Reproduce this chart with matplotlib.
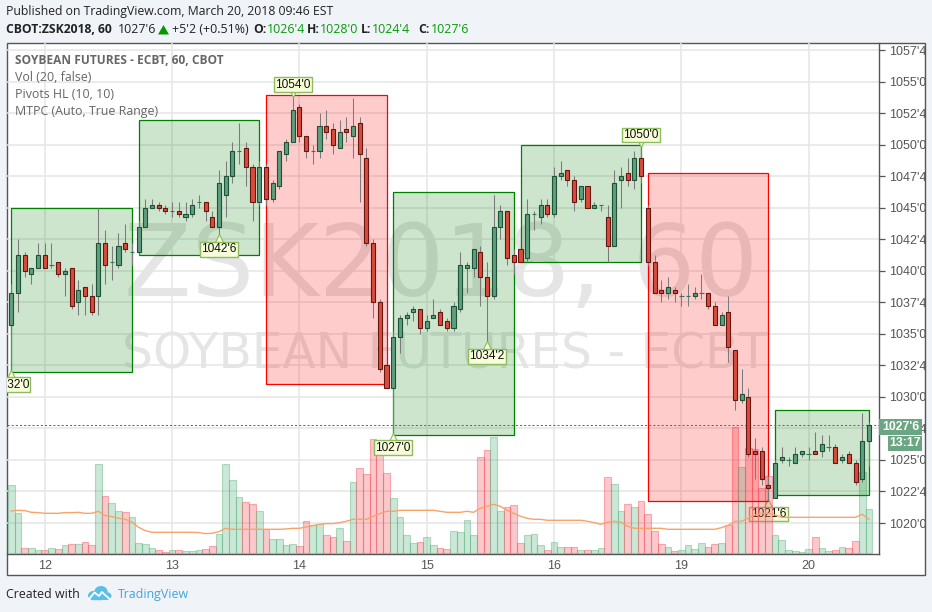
import matplotlib
matplotlib.use("Agg")
import matplotlib.pyplot as plt
from matplotlib.patches import Rectangle, Ellipse
from matplotlib.transforms import offset_copy

W, H = 932, 612

# ---------- data ----------
ohlc_open = [1035.75,1038.25,1041.25,1039.75,1040.25,1041.25,1040.5,1040.75,1039.75,1040.25,
 1037.5,1038.75,1038,1038,1042.25,1040.75,1040.5,1042.25,1041.5,1041.5,
 1043.5,1045,1045.25,1045,1044.75,1044.75,1044.25,1044.5,1045.5,1045.5,
 1044.25,1043.5,1046,1047.5,1049.5,1049.75,1048.25,1045.5,1048.25,1045.75,
 1046.75,1049.25,1050.25,1053,1050.75,1049.5,1049.5,1051.5,1051.25,1049.75,
 1051.25,1050.75,1051.75,1049,1042.25,1037.5,1032.5,1030.75,1034.75,1036.25,
 1036.75,1037,1035.5,1036.25,1036.75,1036,1035.5,1037,1040.25,1040.25,
 1041.5,1039.5,1038,1043.5,1044.75,1041.25,1041.75,1041,1044.5,1044.25,
 1045.25,1044.5,1047.5,1048,1047.25,1045.75,1046.75,1045,1045.25,1044.25,
 1042,1047.25,1047.75,1047.25,1049,1045,1040.75,1038.5,1038.25,1038.5,
 1038,1038,1038,1038.25,1038.25,1037.25,1035.75,1036.75,1033.75,1029.75,
 1030,1025.75,1025.75,1023,1022,1025,1025,1024.75,1025.5,1025.5,
 1025.75,1025.75,1026,1026,1025,1025.5,1024.75,1023.5,1026.5]
ohlc_high = [1039,1042.5,1041.5,1040.25,1042.25,1042.25,1042.25,1040.75,1040.25,1040.25,
 1039.25,1038.75,1039,1045,1043.25,1042,1043,1043.75,1042.25,1044,
 1045.75,1045.75,1045.5,1045.25,1045.5,1045.5,1045.5,1045.75,1046,1045.5,
 1044.75,1048,1048.75,1050.25,1051.75,1050.25,1048.5,1048.75,1048.5,1047.25,
 1049.5,1050.5,1054,1053.25,1050.75,1050,1052.5,1052.75,1051.75,1052,
 1052.25,1053.75,1052.25,1049.75,1042.5,1037.75,1032.5,1035.25,1036.5,1036.75,
 1037.25,1037,1036.5,1037.75,1037,1036.25,1037.5,1041.5,1040.75,1041.75,
 1042,1040.75,1046,1045.25,1044.75,1041.75,1041.75,1045.75,1044.75,1045.75,
 1045.75,1048.25,1048.75,1048,1047.5,1046.75,1046.75,1045.5,1045.25,1045.25,
 1048,1048.25,1049,1049.5,1050,1045.25,1041.25,1039.25,1039.5,1038.75,
 1038.25,1039,1038.75,1039.75,1038.25,1037.5,1036.75,1038,1033.75,1032.25,
 1030.75,1026.75,1026,1023.75,1025,1026,1025.25,1026,1025.75,1026,
 1027.25,1027,1027,1026.25,1025.5,1025.75,1025,1028.75,1028]
ohlc_low = [1032,1036.75,1039.5,1039,1040.25,1040.25,1040.25,1039.5,1038,1037,
 1036.5,1036.5,1036.5,1036.5,1039,1039.25,1040.25,1041.5,1040.5,1041.25,
 1043.5,1045,1044.75,1044.5,1044.25,1044.25,1044,1044.25,1045,1044,
 1043.5,1042.75,1044.25,1047,1048.5,1046.75,1044,1045.25,1045.25,1045.5,
 1046.5,1048.75,1050.25,1050.25,1049,1048.5,1049,1050.5,1049.25,1049.75,
 1050.25,1049,1045.5,1042,1036.25,1032,1030.75,1027,1033.5,1035.75,
 1036,1035,1035.25,1036.25,1035.75,1035.25,1035.25,1036.75,1038.25,1039.5,
 1037.25,1034.25,1037.75,1042.5,1040.5,1039.75,1040.75,1040.75,1043.25,1043.75,
 1044.25,1044.25,1047.25,1046.75,1044.75,1045.5,1045,1045,1044.75,1040.75,
 1042,1045,1046.75,1046.5,1047,1040.5,1038.25,1037.5,1037.75,1037.5,
 1037.25,1037.25,1037.75,1037.75,1037,1035.75,1035.75,1032.75,1029,1029.5,
 1025.25,1023.5,1023,1021.75,1022,1024.75,1024.5,1024.75,1025.25,1025,
 1025.5,1025.25,1025.75,1024.75,1024.75,1024.75,1023,1023.25,1024.5]
ohlc_close = [1038.25,1041.25,1040,1040.25,1041.25,1040.25,1040.5,1039.75,1040,1037.25,
 1038.5,1038,1036.75,1042.25,1040.5,1040.75,1042,1041.75,1041.5,1043.5,
 1045,1045.25,1045,1044.75,1044.75,1044.5,1044.5,1045.25,1045.5,1044.75,
 1043.5,1047,1047.5,1049.5,1049.5,1048.25,1045.5,1048.25,1045.75,1047,
 1049.5,1050.25,1052.75,1050.75,1049.5,1049.5,1051.5,1051,1050,1051,
 1051,1051.5,1049.25,1042.25,1037.5,1032.25,1030.75,1034.75,1036.25,1036.5,
 1037,1035.5,1036,1036.5,1035.75,1035.5,1037.25,1040.5,1040.5,1041.75,
 1039.5,1038,1043.5,1044.75,1041,1040.75,1040.75,1044.5,1044.5,1045.25,
 1044.5,1047.5,1047.75,1047.25,1045.5,1046.75,1045,1045.25,1045.25,1042,
 1047,1047.5,1047.25,1049,1047.5,1040.75,1038.25,1038.25,1038.75,1038.25,
 1038,1038,1038.25,1038.25,1037.25,1035.75,1036.5,1034,1029.75,1030.25,
 1025.5,1025.5,1023.5,1022.75,1024.75,1025.25,1025,1025.5,1025.75,1025.5,
 1025.5,1026.25,1026,1024.75,1025.25,1024.75,1023.25,1026.5,1027.75]
volume = [204,120,15,15,9,9,15,12,24,27,27,33,24,267,171,150,126,123,108,30,27,15,9,3,9,9,6,6,9,12,21,57,
 267,219,168,153,147,126,72,42,42,24,27,21,96,84,87,54,48,75,36,213,255,237,342,315,240,165,108,54,30,33,
 48,24,15,12,66,63,99,54,288,309,348,126,138,144,30,54,57,24,9,33,18,18,18,9,9,9,15,228,207,126,147,138,
 156,117,66,27,18,6,9,24,12,30,18,27,30,84,378,258,315,312,195,232,54,39,9,6,3,12,48,15,6,9,18,15,36,245,132]
vol_ma = [127,129,128,123,122,120,120,120,122,122,123,120,120,126,113,110,105,102,94,78,68,63,63,63,63,63,63,63,62,59,60,65,
 75,72,72,72,72,72,72,72,72,73,75,75,79,83,87,89,89,92,96,102,102,102,111,119,126,126,129,129,129,129,
 129,129,126,123,123,123,126,123,135,141,147,141,129,120,111,105,102,102,99,99,99,99,99,99,96,92,87,93,96,93,81,75,
 75,75,75,75,72,72,72,72,72,72,72,72,77,84,96,96,106,115,120,120,115,108,108,108,108,108,108,108,108,108,108,108,108,117,102]
day_pos = [5, 24, 43, 62, 81, 100, 119]
day_labels = ["12", "13", "14", "15", "16", "19", "20"]
price_ticks = [1020, 1022.5, 1025, 1027.5, 1030, 1032.5, 1035, 1037.5, 1040, 1042.5, 1045, 1047.5, 1050, 1052.5, 1055, 1057.5]
price_labels = ["1020'0","1022'4","1025'0","1027'4","1030'0","1032'4","1035'0","1037'4","1040'0","1042'4","1045'0","1047'4","1050'0","1052'4","1055'0","1057'4"]
# profit boxes: first bar, last bar, low, high, kind
boxes = [(0, 18, 1032, 1045, "g"), (19, 37, 1041.25, 1052, "g"), (38, 56, 1031, 1054, "r"),
         (57, 75, 1027, 1046.25, "g"), (76, 94, 1040.75, 1050, "g"), (95, 113, 1021.75, 1047.75, "r"),
         (114, 128, 1022.25, 1029, "g")]
# pivots: bar, price, label, is_high
pivots = [(42, 1054, "1054'0", True), (94, 1050, "1050'0", True), (31, 1042.75, "1042'6", False),
          (71, 1034.25, "1034'2", False), (57, 1027, "1027'0", False), (0, 1032, "1032'0", False)]
pivot_under = (113, 1021.75, "1021'6", False)
last_price = 1027.75

# ---------- layout ----------
L, R, T, B = 6.5, 879.3, 43.3, 554.3
PANE_R, PANE_B = 925.3, 575.3
BG = "#f0f3f7"
fig = plt.figure(figsize=(W / 100, H / 100), dpi=100, facecolor=BG)
SANS = "Open Sans"
AX = "Liberation Sans"
GREY = "#555555"
rect = [L / W, 1 - B / H, (R - L) / W, (B - T) / H]
fig.patches.append(Rectangle((L / W, 1 - PANE_B / H), (PANE_R - L) / W, (PANE_B - T) / H,
                             transform=fig.transFigure, fc="white", ec="#555555", lw=1.0, zorder=-5))

n = len(ohlc_close)
xs = list(range(n))
xlim = (-0.716, 129.55)
ylim = (1017.516, 1058.07)

# base axes: grid, watermark, ticks
ax = fig.add_axes(rect, zorder=1, facecolor="none")
ax.set_xlim(xlim); ax.set_ylim(ylim)
ax.set_xticks(day_pos); ax.set_xticklabels(day_labels, fontfamily=AX, fontsize=9, color=GREY)
ax.yaxis.tick_right()
ax.set_yticks(price_ticks); ax.set_yticklabels(price_labels, fontfamily=AX, fontsize=9, color=GREY)
ax.tick_params(axis="y", length=4, width=0.9, color=GREY, pad=3)
ax.tick_params(axis="x", length=0, pad=4)
ax.grid(True, color="#e6e6e6", lw=1.1, zorder=0)
ax.set_axisbelow(True)
for s in ("left", "top"):
    ax.spines[s].set_visible(False)
for s in ("right", "bottom"):
    ax.spines[s].set_color(GREY); ax.spines[s].set_linewidth(1.0)
ax.text(441 / W, 1 - 268 / H, "ZSK2018, 60", transform=fig.transFigure, ha="center", va="center",
        fontsize=71, color="#808080", alpha=0.2, family="DejaVu Sans", zorder=0.5)
ax.text(445 / W, 1 - 354 / H, "SOYBEAN FUTURES - ECBT", transform=fig.transFigure, ha="center", va="center",
        fontsize=35, color="#808080", alpha=0.2, family="DejaVu Sans", zorder=0.5)

LBL_FC, LBL_EC = "#f6fdd8", "#8dbb5e"
def pivot_label(a, bar, price, text, is_high):
    off = 10 if is_high else 13
    tr = offset_copy(a.transData, fig=fig, x=0, y=(3 if is_high else -3), units="dots")
    a.plot([bar], [price], transform=tr, marker="v" if is_high else "^", ms=6.5, mfc=LBL_FC,
           mec=LBL_EC, mew=0.8, ls="none", zorder=8)
    a.annotate(text, (bar, price), xytext=(0, off if is_high else -off), textcoords="offset pixels",
               ha="center", va="center", fontsize=8.6, family=AX, color="#111111", zorder=9,
               annotation_clip=False, clip_on=True,
               bbox=dict(boxstyle="square,pad=0.12", fc=LBL_FC, ec=LBL_EC, lw=1.0))
pivot_label(ax, *pivot_under)

# volume axes
vax = fig.add_axes(rect, zorder=2, facecolor="none", sharex=ax)
vax.set_ylim(-3, 1530)
vax.axis("off")
for i in xs:
    up = ohlc_close[i] >= ohlc_open[i]
    rgb = (85 / 255, 178 / 255, 125 / 255) if up else (242 / 255, 78 / 255, 88 / 255)
    vax.bar(i, volume[i], width=1.0, color=rgb + (0.3,), edgecolor=rgb + (0.42,), linewidth=0.8)
vax.plot(xs, vol_ma, color="#f6a469", lw=1.0, zorder=4)

# candle axes
cax = fig.add_axes(rect, zorder=3, facecolor="none", sharex=ax)
cax.set_ylim(ylim)
cax.axis("off")
for a, b, lo, hi, kind in boxes:
    c = "#008000" if kind == "g" else "#ff0000"
    fc = (0, 0.5, 0, 0.2) if kind == "g" else (1, 0, 0, 0.2)
    cax.add_patch(Rectangle((a, lo), b - a, hi - lo, fc=fc, ec=c, lw=0.9, zorder=2))
cax.axhline(last_price, color="#2e8b57", lw=0.75, ls=(0, (2, 2)), zorder=3)
cax.vlines(xs, ohlc_low, ohlc_high, color="#7b7b7b", lw=0.75, zorder=4)
for i in xs:
    o, c = ohlc_open[i], ohlc_close[i]
    if o == c:
        cax.hlines(o, i - 0.34, i + 0.34, color="#2f7a55", lw=0.8, zorder=5)
        continue
    fc, ec = ("#5f9e7e", "#1d5236") if c > o else ("#d94b3c", "#661610")
    cax.add_patch(Rectangle((i - 0.3, min(o, c)), 0.6, abs(c - o), fc=fc, ec=ec, lw=0.8, zorder=5))
for p in pivots:
    pivot_label(cax, *p)

# overlay in pixel coordinates: header, legend, price tags, footer
ov = fig.add_axes([0, 0, 1, 1], zorder=6, facecolor="none")
ov.set_xlim(0, W); ov.set_ylim(H, 0); ov.axis("off")
def t(x, y, s, color="#222222", weight="normal", size=8.9, family=SANS, ha="left"):
    ov.text(x, y, s, color=color, fontweight=weight, fontsize=size, family=family, ha=ha, va="center")

t(6, 11.5, "Published on TradingView.com, March 20, 2018 09:46 EST", size=8.8)
UP = "#0a9a0a"
t(6, 29.5, "CBOT:ZSK2018, 60", weight="bold", size=8.7)
t(118, 29.5, "1027'6")
ov.fill([158, 169, 163.5], [34.5, 34.5, 25], color="#009900", lw=0)
t(172, 29.5, "+5'2 (+0.51%)")
t(253, 29.5, "O:", weight="bold", size=8.7); t(267, 29.5, "1026'4", color=UP)
t(307, 29.5, "H:", weight="bold", size=8.7); t(320, 29.5, "1028'0", color=UP)
t(361, 29.5, "L:", weight="bold", size=8.7); t(372, 29.5, "1024'4", color=UP)
t(418, 29.5, "C:", weight="bold", size=8.7); t(431, 29.5, "1027'6", color=UP)

LEG = "#666666"
t(15, 60.5, "SOYBEAN FUTURES - ECBT, 60, CBOT", color=LEG, weight="bold", size=8.55)
t(15, 77.5, "Vol (20, false)", color=LEG)
t(15, 94.5, "Pivots HL (10, 10)", color=LEG)
t(15, 111.5, "MTPC (Auto, True Range)", color=LEG)

TAG = "#6ba583"
ov.add_patch(Rectangle((879, 419.3), 43, 15.4, fc=TAG, ec="none"))
ov.add_patch(Rectangle((888, 436), 34, 14.7, fc=TAG, ec="none"))
t(900.5, 427, "1027'6", color="white", weight="bold", size=8.8, family=AX, ha="center")
t(905, 443.5, "13:17", color="white", weight="bold", size=8.8, family=AX, ha="center")

t(6, 594.5, "Created with", size=8.9)
t(118, 594.5, "TradingView", color="#3ea6e0", size=8.9)
CL = "#5bbfe8"
for cx, cy, w, h in [(94.5, 595.5, 13, 9.5), (101, 591.5, 13, 11), (106, 596, 11, 8), (99, 597.5, 20, 5.5)]:
    ov.add_patch(Ellipse((cx, cy), w, h, fc=CL, ec="none"))
ov.plot([89, 94.5, 99, 102, 105, 111], [599, 592.5, 596, 592, 595, 600], color="white", lw=1.3)

fig.savefig("out.png", dpi=100, facecolor=BG)
